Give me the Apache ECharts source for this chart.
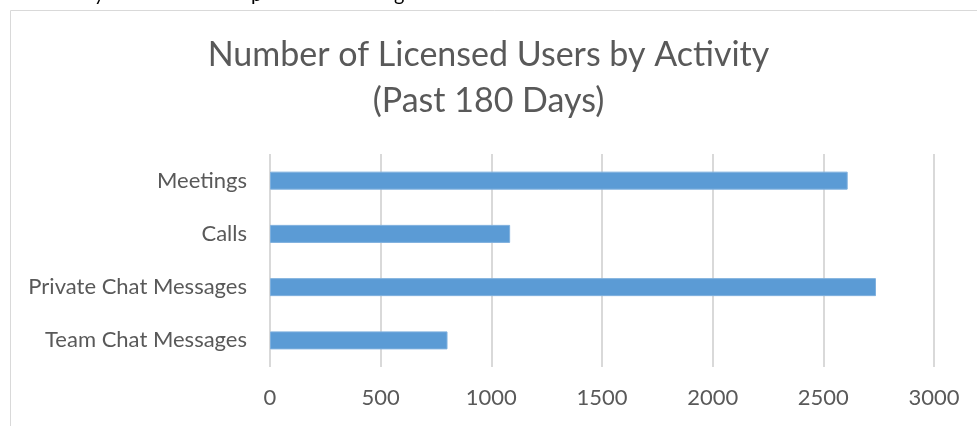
<!DOCTYPE html>
<html><head><meta charset="utf-8">
<script src="https://cdn.jsdelivr.net/npm/echarts@6/dist/echarts.min.js"></script>
<style>html,body{margin:0;padding:0;background:#fff}#c{width:977px;height:426px}</style>
</head><body><div id="c"></div>
<script>
const categories = ['Meetings', 'Calls', 'Private Chat Messages', 'Team Chat Messages'];
const users = [2610, 1085, 2738, 802];
const xTicks = [0, 500, 1000, 1500, 2000, 2500, 3000];
const titleLines = ['Number of Licensed Users by Activity', '(Past 180 Days)'];
const topFragments = ['y', 'p', 'g'];

const chart = echarts.init(document.getElementById('c'));
const FONT = 'Lato';
chart.setOption({
  animation: false,
  title: {
    text: titleLines.join('\n'),
    left: 'center', top: 27,
    textStyle: { fontFamily: FONT, fontSize: 34, fontWeight: 'normal', color: '#595959', lineHeight: 46 }
  },
  graphic: [
    { type: 'rect', shape: { x: 10.5, y: 10.5, width: 1200, height: 500 }, style: { fill: 'none', stroke: '#d9d9d9', lineWidth: 1 }, silent: true }
  ].concat(topFragments.map((t, i) => ({
    type: 'text', left: [94, 251, 394][i], top: -15,
    style: { text: t, font: '20px Lato', fill: '#000' }, silent: true
  }))),
  grid: { left: 270, right: 43, top: 154, bottom: 59 },
  xAxis: {
    type: 'value', min: xTicks[0], max: xTicks[xTicks.length - 1], interval: 500,
    axisLine: { show: false }, axisTick: { show: false },
    splitLine: { lineStyle: { color: '#d9d9d9', width: 2 } },
    axisLabel: { fontFamily: FONT, fontSize: 22, color: '#595959', margin: 20, formatter: v => String(v) }
  },
  yAxis: {
    type: 'category', data: categories, inverse: true,
    axisLine: { show: false }, axisTick: { show: false },
    axisLabel: { fontFamily: FONT, fontSize: 22, color: '#595959', margin: 23 }
  },
  series: [{
    type: 'bar', data: users, barWidth: 18,
    itemStyle: { color: '#5b9bd5', borderColor: '#7fb0de', borderWidth: 1 }
  }]
});
</script></body></html>
